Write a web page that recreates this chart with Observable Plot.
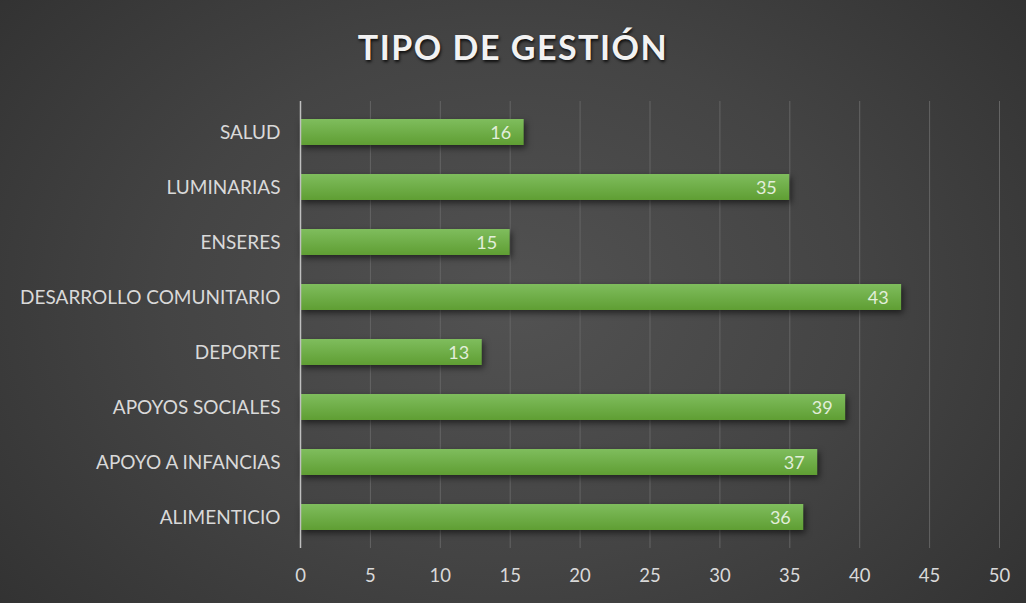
<!DOCTYPE html>
<html>
<head>
<meta charset="utf-8">
<script src="https://cdn.jsdelivr.net/npm/d3@7"></script>
<script src="https://cdn.jsdelivr.net/npm/@observablehq/plot@0.6"></script>
<style>
  html, body { margin: 0; padding: 0; background: #2a2a2a; }
  #wrap {
    position: relative; width: 1026px; height: 603px; overflow: hidden;
    background: radial-gradient(ellipse 75% 95% at 50% 50%, #525252 0%, #444 45%, #2c2c2c 100%);
    font-family: Lato, "Open Sans", sans-serif;
  }
  #title {
    position: absolute; left: 0; top: 26px; width: 1026px; text-align: center;
    font-family: Lato, "Open Sans", sans-serif; font-weight: 700; font-size: 34px;
    letter-spacing: 1.5px; color: #f2f2f2; line-height: 42px;
    text-shadow: 1px 2px 3px rgba(0,0,0,0.8);
  }
  #chart { position: absolute; left: 0; top: 0; }
  #chart svg { background: transparent; }
  .bars rect { filter: drop-shadow(2px 3px 3px rgba(0,0,0,0.55)); }
</style>
</head>
<body>
<div id="wrap">
  <div id="title">TIPO DE GESTIÓN</div>
  <div id="chart"></div>
</div>
<script>
const categories = ["SALUD", "LUMINARIAS", "ENSERES", "DESARROLLO COMUNITARIO", "DEPORTE", "APOYOS SOCIALES", "APOYO A INFANCIAS", "ALIMENTICIO"];
const values = [16, 35, 15, 43, 13, 39, 37, 36];
const xTicks = [0, 5, 10, 15, 20, 25, 30, 35, 40, 45, 50];

const data = categories.map((c, i) => ({category: c, value: values[i]}));

const chart = Plot.plot({
  width: 1026,
  height: 603,
  marginLeft: 300,
  marginRight: 27,
  marginTop: 101,
  marginBottom: 55,
  style: {background: "transparent", fontFamily: "Lato, 'Open Sans', sans-serif", fontSize: "18px", color: "#d9d9d9"},
  x: {domain: [0, 50], ticks: xTicks},
  y: {domain: categories, paddingInner: 0.53, paddingOuter: 0.265},
  marks: [
    Plot.gridX(xTicks.filter(d => d > 0), {stroke: "#646464", strokeOpacity: 1, strokeWidth: 1}),
    Plot.axisX(xTicks, {tickSize: 0, tickPadding: 20, label: null, fill: "#d9d9d9", fontSize: 18.5}),
    Plot.axisY({tickSize: 0, tickPadding: 20, label: null, fill: "#d9d9d9", fontSize: 19}),
    Plot.barX(data, {x: "value", y: "category", fill: "url(#barGrad)", className: "bars"}),
    Plot.ruleX([0], {stroke: "#bfbfbf", strokeWidth: 1.5}),
    Plot.text(data, {x: "value", y: "category", text: d => String(d.value), textAnchor: "end", dx: -13, dy: 1, fill: "#e2eedb", fontSize: 18})
  ]
});

const svg = d3.select(chart);
const defs = svg.insert("defs", ":first-child");
const grad = defs.append("linearGradient").attr("id", "barGrad").attr("x1", 0).attr("y1", 0).attr("x2", 0).attr("y2", 1);
grad.append("stop").attr("offset", "0%").attr("stop-color", "#7fbd5d");
grad.append("stop").attr("offset", "100%").attr("stop-color", "#5f9e33");

document.getElementById("chart").appendChild(chart);
</script>
</body>
</html>
